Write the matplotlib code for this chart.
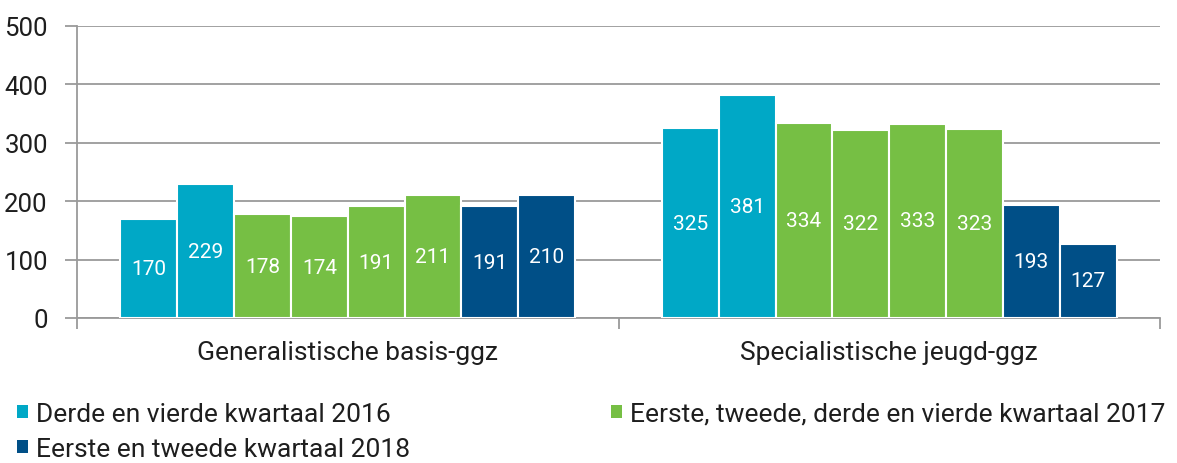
import matplotlib
matplotlib.use("Agg")
import matplotlib.pyplot as plt
import numpy as np

categories = ["Generalistische basis-ggz", "Specialistische jeugd-ggz"]
periods = ["2016 K3", "2016 K4", "2017 K1", "2017 K2", "2017 K3", "2017 K4", "2018 K1", "2018 K2"]
period_group = [0, 0, 1, 1, 1, 1, 2, 2]
values_basis = [170, 229, 178, 174, 191, 211, 191, 210]
values_jeugd = [325, 381, 334, 322, 333, 323, 193, 127]
group_labels = ["Derde en vierde kwartaal 2016",
                "Eerste, tweede, derde en vierde kwartaal 2017",
                "Eerste en tweede kwartaal 2018"]
group_colors = ["#00A8C6", "#76BF44", "#004F87"]
yticks = [0, 100, 200, 300, 400, 500]

plt.rcParams['font.family'] = ['Roboto', 'DejaVu Sans']
txt = "#1E1E1E"

fig = plt.figure(figsize=(11.77, 4.64), dpi=100)
ax = fig.add_axes([77/1177, 1 - 319/464, (1160-77)/1177, (319-27)/464])

grey = "#9A9A9A"
n = len(periods)
total = 0.84
w = total / n
data = np.array([values_basis, values_jeugd])
handles = {}
for i in range(n):
    xs = np.arange(len(categories)) - total/2 + w*(i + 0.5)
    col = group_colors[period_group[i]]
    bars = ax.bar(xs, data[:, i], width=w, color=col, edgecolor="white",
                  linewidth=1.5, zorder=3, label=group_labels[period_group[i]])
    handles.setdefault(period_group[i], bars)
    for b, v in zip(bars, data[:, i]):
        ax.text(b.get_x() + b.get_width()/2, v/2, str(v), ha="center", va="center",
                color="white", fontsize=15, zorder=4)

ax.set_xlim(-0.5, 1.5)
ax.set_ylim(0, 500)
ax.set_yticks(yticks)
ax.yaxis.grid(True, color=grey, linewidth=1.3, zorder=1)
ax.set_axisbelow(True)
for s in ["top", "right"]:
    ax.spines[s].set_visible(False)
for s in ["left", "bottom"]:
    ax.spines[s].set_color(grey)
    ax.spines[s].set_linewidth(1.3)
ax.tick_params(axis="y", length=9, width=1.3, color=grey, labelsize=18.5, pad=12, labelcolor=txt)
ax.set_xticks([0, 1])
ax.set_xticklabels(categories)
ax.set_xticks([-0.5, 0.5, 1.5], minor=True)
ax.tick_params(axis="x", which="major", length=0, labelsize=19, pad=16, labelcolor=txt)
ax.tick_params(axis="x", which="minor", length=8, width=1.3, color=grey)

legkw = dict(loc="center left", frameon=False, fontsize=19, handlelength=0.42,
             handleheight=0.42, handletextpad=0.3,
             borderaxespad=0, borderpad=0, labelcolor=txt)
legend_pos = {0: (17, 415), 1: (611, 415), 2: (17, 450)}
for k, (px, py) in legend_pos.items():
    lg = fig.legend([handles[k]], [group_labels[k]],
                    bbox_to_anchor=(px/1177, 1 - py/464), **legkw)
    for h in lg.legend_handles:
        h.set_edgecolor("none")
fig.savefig("out.png", dpi=100)
